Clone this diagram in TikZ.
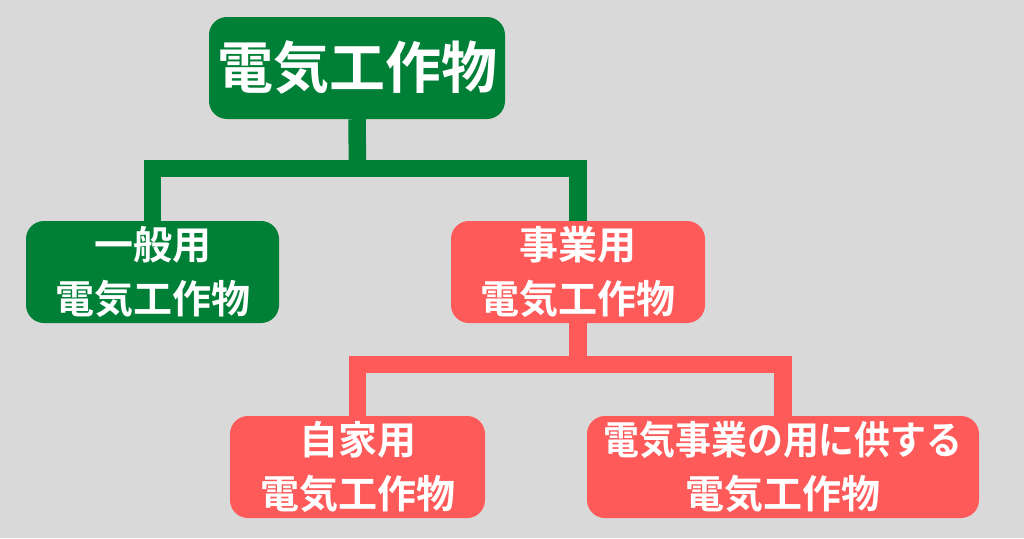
\documentclass[tikz,border=0pt]{standalone}
\usepackage{fontspec}
\newfontfamily\jp{Noto Sans CJK JP}[UprightFont=*, BoldFont=* Bold]
\definecolor{bg}{HTML}{D9D9D9}
\definecolor{dgreen}{HTML}{007F37}
\definecolor{lred}{HTML}{FF5A5A}
\tikzset{
  box/.style={rounded corners=18pt, inner sep=0pt, align=center, text=white,
    font=\jp\bfseries\fontsize{39}{54}\selectfont},
  gbox/.style={box, fill=dgreen},
  rbox/.style={box, fill=lred},
  conn/.style={line width=17.5pt, line join=miter, line cap=butt},
}
\begin{document}
\begin{tikzpicture}[x=1pt,y=-1pt]
\fill[bg] (0,0) rectangle (1024,538);
\useasboundingbox (0,0) rectangle (1024,538);
% nodes
\node[gbox, minimum width=296pt, minimum height=102pt, font=\jp\bfseries\fontsize{56}{60}\selectfont] (top) at (357,68) {電気工作物};
\node[gbox, minimum width=253pt, minimum height=102pt] (gen) at (152.5,272) {一般用\\電気工作物};
\node[rbox, minimum width=254pt, minimum height=102pt] (biz) at (578,272) {事業用\\電気工作物};
\node[rbox, minimum width=255pt, minimum height=102pt] (self) at (357.5,467) {自家用\\電気工作物};
\node[rbox, minimum width=392pt, minimum height=102pt] (util) at (783,467) {\scalebox{0.92}[1]{電気事業の用に供する}\\電気工作物};
% connectors
\coordinate (j1) at (357.5,168.5);
\coordinate (j2) at (578,364.5);
\draw[conn, dgreen] (top.south) -- (j1);
\draw[conn, dgreen] (gen.north) |- (j1) -| (biz.north);
\draw[conn, lred] (biz.south) -- (j2);
\draw[conn, lred] (self.north) |- (j2) -| (util.north);
\end{tikzpicture}
\end{document}
